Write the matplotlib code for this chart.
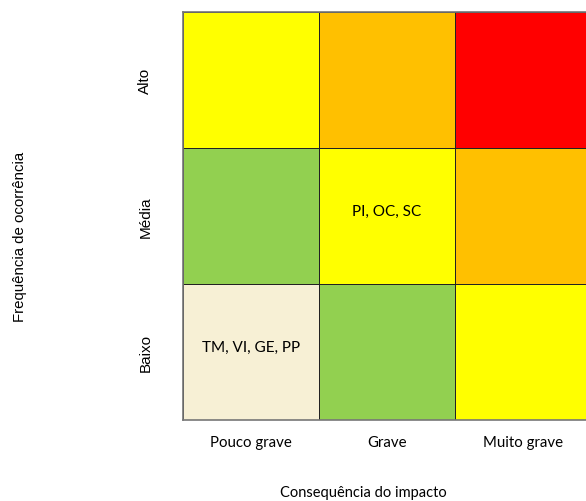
import matplotlib.pyplot as plt
import numpy as np
from matplotlib.colors import ListedColormap

# Categories
consequencia = ['Pouco grave', 'Grave', 'Muito grave']
frequencia = ['Baixo', 'Média', 'Alto']

# Risk level per cell (rows = Baixo, Média, Alto; columns = consequence)
nivel = np.array([[0, 1, 2],
                  [1, 2, 3],
                  [2, 3, 4]])
cores = ['#F7F0D5', '#92D050', '#FFFF00', '#FFC000', '#FF0000']

# Items placed in each cell
itens = [['TM, VI, GE, PP', '', ''],
         ['', 'PI, OC, SC', ''],
         ['', '', '']]

fig = plt.figure(figsize=(5.86, 5.02), dpi=100)
ax = fig.add_axes([183 / 586, 81 / 502, 408 / 586, 408 / 502])

ax.pcolormesh(np.arange(4), np.arange(4), nivel, cmap=ListedColormap(cores),
              vmin=-0.5, vmax=4.5, edgecolors='#222222', linewidth=0.6)

for i in range(3):
    for j in range(3):
        if itens[i][j]:
            ax.text(j + 0.5, i + 0.54, itens[i][j], ha='center', va='center',
                    fontsize=11, family='Lato', color='black')

ax.set_xlim(0, 3)
ax.set_ylim(0, 3)
ax.set_xticks(np.arange(3) + 0.5)
ax.set_xticklabels(consequencia, fontsize=10.8, family='Lato')
ax.set_yticks(np.arange(3) + 0.5)
ax.set_yticklabels(frequencia, fontsize=11, rotation=90, va='center', family='Liberation Sans')
ax.tick_params(length=0)
ax.tick_params(axis='x', pad=11)
ax.tick_params(axis='y', pad=22)
for s in ax.spines.values():
    s.set_color('#777777')
    s.set_linewidth(1.2)

fig.text(363 / 586, 1 - 493 / 502, 'Consequência do impacto', ha='center', va='center',
         fontsize=10.5, family='Lato')
fig.text(20 / 586, 1 - 237 / 502, 'Frequência de ocorrência', ha='center', va='center',
         rotation=90, fontsize=10.8, family='Liberation Sans')

fig.savefig('out.png', dpi=100)
